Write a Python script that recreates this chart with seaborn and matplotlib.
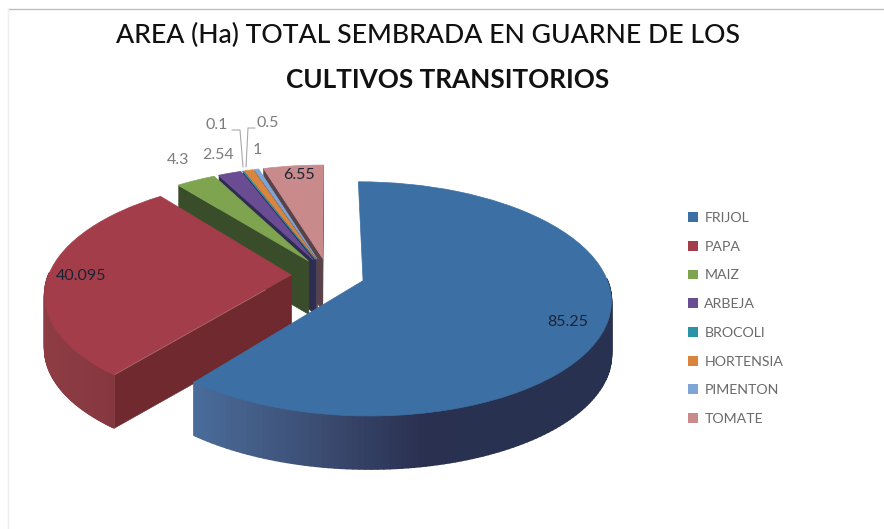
import numpy as np
import seaborn as sns
from matplotlib import pyplot as plt
from matplotlib.collections import PolyCollection
from matplotlib.colors import LinearSegmentedColormap
from matplotlib.lines import Line2D
from matplotlib.patches import Patch
from matplotlib.transforms import Transform

cultivos = ['FRIJOL', 'PAPA', 'MAIZ', 'ARBEJA', 'BROCOLI', 'HORTENSIA', 'PIMENTON', 'TOMATE']
hectareas = [85.25, 40.095, 4.3, 2.54, 0.1, 1, 0.5, 6.55]
etiquetas = ['85.25', '40.095', '4.3', '2.54', '0.1', '1', '0.5', '6.55']
colores = ['#3c6fa3', '#a33d4a', '#7fa44f', '#6a4c93', '#2b93a8', '#d9853d', '#7ea5d5', '#c98a8c']
rim_ramp = [['#4a6d9c', '#3d5076', '#2a3050', '#283250'], ['#8f3d45', '#873840', '#7a2f36']]
cara = ['#2a3050', '#70292e', '#3a4d2a', '#2f2c52', '#2f2c52', '#4b4458', '#4b4458', '#5a4249']

W, H = 884, 529
R = 250.0
CX, CY = 328.0, 275.0
ASP, K = 0.45, 0.154
XS = 0.97
DEPTH = 53.0 / R


def project(x, y, depth=0.0):
    s = 1 / (1 + K * y)
    return XS * x * s, ASP * y * s - depth


class Persp(Transform):
    input_dims = output_dims = 2
    is_separable = False
    has_inverse = False

    def transform_non_affine(self, values):
        values = np.asarray(values)
        return np.column_stack(project(values[:, 0], values[:, 1]))


def px(x, y):
    # picture pixels to axes data
    return (x - CX) / R, (CY - y) / R


sns.set_theme(style='white')
plt.rcParams['font.family'] = ['Lato', 'DejaVu Sans']

fig = plt.figure(figsize=(W / 100, H / 100), dpi=100)
ax = fig.add_axes([0, 0, 1, 1])
wedges, _ = ax.pie(hectareas, colors=colores, startangle=90, counterclock=False,
                   explode=[0.152] * len(hectareas), radius=1)
ax.set_aspect('auto')
ax.set_xlim(-CX / R, (W - CX) / R)
ax.set_ylim((CY - H) / R, CY / R)
ax.axis('off')

persp = Persp()
for i, w in enumerate(wedges):
    z = 10 + 3 * (len(wedges) - i)
    cx, cy = w.center
    # radial side faces, only the ones turned to the viewer
    caras = []
    for ang, normal in [(w.theta1, w.theta1 - 90), (w.theta2, w.theta2 + 90)]:
        if np.sin(np.radians(normal)) >= 0:
            continue
        ex = cx + w.r * np.cos(np.radians(ang))
        ey = cy + w.r * np.sin(np.radians(ang))
        caras.append([project(cx, cy), project(ex, ey), project(ex, ey, DEPTH), project(cx, cy, DEPTH)])
    ax.add_collection(PolyCollection(caras, facecolors=cara[i], edgecolors=cara[i], linewidths=0.4, zorder=z))
    # curved rim, front part only
    th = np.radians(np.linspace(w.theta1, w.theta2, 180))
    th = th[np.sin(th) < 0.02]
    if len(th) > 1:
        ex = cx + w.r * np.cos(th)
        ey = cy + w.r * np.sin(th)
        tx, ty = project(ex, ey)
        bx, by = project(ex, ey, DEPTH)
        quads = [[(tx[j], ty[j]), (tx[j + 1], ty[j + 1]), (bx[j + 1], by[j + 1]), (bx[j], by[j])]
                 for j in range(len(th) - 1)]
        cmap = LinearSegmentedColormap.from_list('rim', rim_ramp[i])
        xs = (tx[:-1] + tx[1:]) / 2
        if i == 0:
            c = cmap(np.clip((xs + 0.55) / 1.4, 0, 1))
        else:
            c = cmap(np.clip((xs + 1.15) / 0.5, 0, 1))
        ax.add_collection(PolyCollection(quads, facecolors=c, edgecolors=c, linewidths=1.3, zorder=z + 1))
    w.set_transform(persp + ax.transData)
    w.set_zorder(z + 2)
    w.set_edgecolor(colores[i])
    w.set_linewidth(0.5)

# data labels
pos_etq = [(568, 322), (81, 276), (178, 160), (218, 155), (217, 125), (257, 150), (268, 123), (299, 175)]
oscuro = [True, True, False, False, False, False, False, True]
for t, (x, y), o in zip(etiquetas, pos_etq, oscuro):
    ax.text(*px(x, y), t, ha='center', va='center', fontsize=11.5,
            color='#1c2333' if o else '#7c7c7c', zorder=60)

# leader lines for the two thin slices
guias = [[(232, 130), (240, 130), (243, 167)], [(255, 128), (248, 128), (246, 167)]]
for g in guias:
    gx, gy = zip(*[px(*p) for p in g])
    ax.plot(gx, gy, color='#a9a9a9', lw=0.8, zorder=60)

ax.text(*px(428, 35), 'AREA (Ha) TOTAL SEMBRADA EN GUARNE DE LOS', ha='center', va='center',
        fontsize=19.2, fontweight='medium', color='#111111')
ax.text(*px(448, 80), 'CULTIVOS TRANSITORIOS', ha='center', va='center',
        fontsize=18.8, fontweight='bold', color='#111111')

handles = [Patch(facecolor=c, edgecolor='none') for c in colores]
leg = ax.legend(handles, cultivos, loc='upper left', bbox_to_anchor=(688 / W, 1 - 212 / H),
                bbox_transform=fig.transFigure, frameon=False, fontsize=10.2,
                labelcolor='#6a6a6a', handlelength=0.7, handleheight=0.7,
                handletextpad=0.45, labelspacing=1.18, borderpad=0, borderaxespad=0)
leg.set_zorder(60)

# border of the original slide
fig.add_artist(Line2D([8 / W, 1], [1 - 9 / H, 1 - 9 / H], color='#bdbdbd', lw=1))
fig.add_artist(Line2D([8 / W, 8 / W], [0, 1 - 9 / H], color='#eeeeee', lw=1))

fig.savefig('out.png', dpi=100)
